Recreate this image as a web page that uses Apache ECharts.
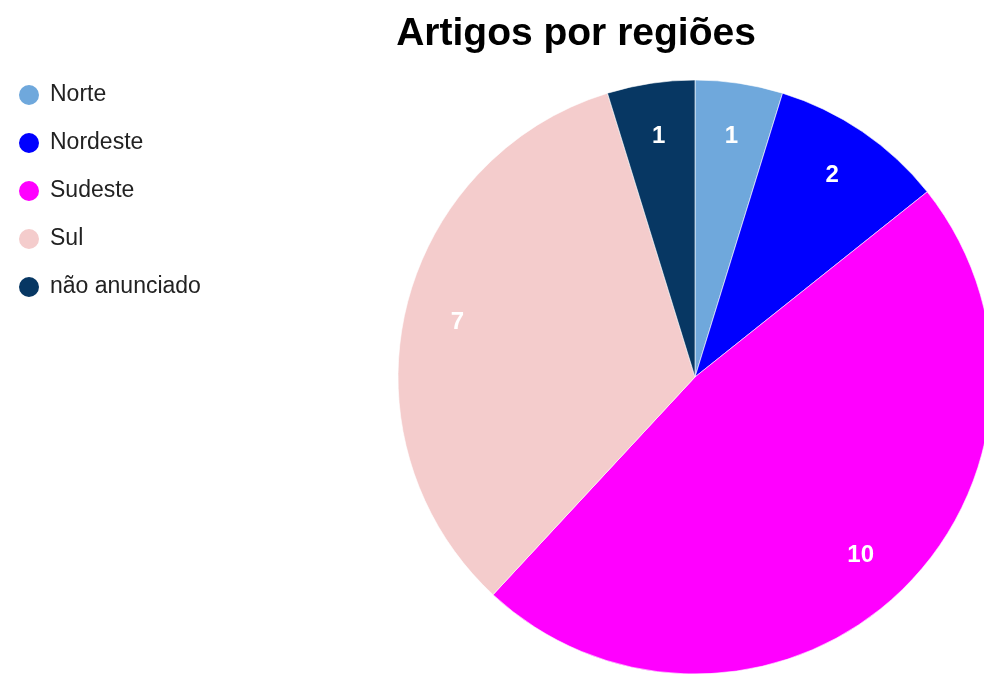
<!DOCTYPE html>
<html>
<head>
<meta charset="utf-8">
<script src="https://cdn.jsdelivr.net/npm/echarts@6/dist/echarts.min.js"></script>
<style>html,body{margin:0;padding:0;background:#fff}#c{width:984px;height:674px}</style>
</head>
<body>
<div id="c"></div>
<script>
const categories = ['Norte', 'Nordeste', 'Sudeste', 'Sul', 'não anunciado'];
const values = [1, 2, 10, 7, 1];
const colors = ['#6fa8dc', '#0000ff', '#ff00ff', '#f4cccc', '#073763'];

const data = categories.map((n, i) => ({ name: n, value: values[i], itemStyle: { color: colors[i] } }));
const R = 297;
const chart = echarts.init(document.getElementById('c'));
chart.setOption({
  animation: false,
  title: {
    text: 'Artigos por regiões',
    left: 571, top: 10, textAlign: 'center',
    textStyle: { fontFamily: 'Liberation Sans, Arial', fontSize: 39, fontWeight: 'bold', color: '#000' }
  },
  legend: {
    orient: 'vertical', left: 12, top: 78,
    icon: 'circle', itemWidth: 22, itemHeight: 22, itemGap: 24,
    data: categories,
    textStyle: { fontFamily: 'Liberation Sans, Arial', fontSize: 23, lineHeight: 22, color: '#222', padding: [0, 0, 0, 5] }
  },
  series: [
    {
      type: 'pie', center: [695, 377], radius: [0, R],
      startAngle: 90, clockwise: true,
      data: data,
      label: { show: false }, labelLine: { show: false },
      itemStyle: { borderColor: '#fff', borderWidth: 0.6 },
      emphasis: { disabled: true }
    },
    {
      type: 'pie', center: [695, 377], radius: [0.62 * R, R],
      startAngle: 90, clockwise: true, silent: true,
      data: categories.map((n, i) => ({ name: n, value: values[i] })),
      itemStyle: { color: 'rgba(0,0,0,0)' },
      label: { show: true, position: 'inside', formatter: '{c}', color: '#fff',
        fontFamily: 'Liberation Sans, Arial', fontSize: 24, fontWeight: 'bold' },
      labelLine: { show: false },
      emphasis: { disabled: true },
      legendHoverLink: false
    }
  ]
});
</script>
</body>
</html>
